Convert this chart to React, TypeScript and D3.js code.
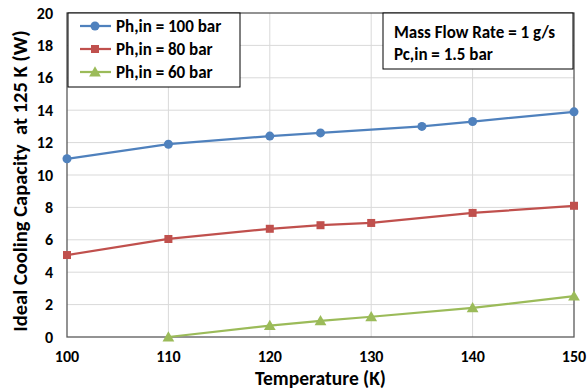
import * as d3 from 'd3'

const temps100 = [100, 110, 120, 125, 135, 140, 150]
const cap100 = [11.0, 11.9, 12.4, 12.6, 13.0, 13.3, 13.9]
const temps80 = [100, 110, 120, 125, 130, 140, 150]
const cap80 = [5.06, 6.05, 6.68, 6.9, 7.04, 7.66, 8.1]
const temps60 = [110, 120, 125, 130, 140, 150]
const cap60 = [0, 0.7, 1.0, 1.25, 1.8, 2.52]
const xTicks = [100, 110, 120, 130, 140, 150]
const yTicks = [0, 2, 4, 6, 8, 10, 12, 14, 16, 18, 20]
const seriesNames = ['Ph,in = 100 bar', 'Ph,in = 80 bar', 'Ph,in = 60 bar']
const noteLines = ['Mass Flow Rate = 1 g/s', 'Pc,in = 1.5 bar']

const width = 587
const height = 391
const margin = { top: 13, right: 13, bottom: 54, left: 67 }
const font = 'Carlito, Lato, "Open Sans", sans-serif'

const series = [
  { name: seriesNames[0], x: temps100, y: cap100, color: '#4f81bd', marker: 'circle' },
  { name: seriesNames[1], x: temps80, y: cap80, color: '#c0504d', marker: 'square' },
  { name: seriesNames[2], x: temps60, y: cap60, color: '#9bbb59', marker: 'triangle' },
]

function Marker({ type, cx, cy, color }: { type: string; cx: number; cy: number; color: string }) {
  if (type === 'circle') return <circle cx={cx} cy={cy} r={4.5} fill={color} />
  if (type === 'square') return <rect x={cx - 4} y={cy - 4} width={8} height={8} fill={color} />
  const s = d3.symbol(d3.symbolTriangle, 60)()
  return <path d={s || ''} transform={`translate(${cx},${cy + 1})`} fill={color} />
}

export default function App() {
  const iw = width - margin.left - margin.right
  const ih = height - margin.top - margin.bottom
  const x = d3.scaleLinear().domain([100, 150]).range([0, iw])
  const y = d3.scaleLinear().domain([0, 20]).range([ih, 0])
  const line = d3
    .line<[number, number]>()
    .x((d) => x(d[0]))
    .y((d) => y(d[1]))

  return (
    <svg width={width} height={height} style={{ position: 'absolute', left: 0, top: 0, background: '#fff' }}>
      <g transform={`translate(${margin.left},${margin.top})`}>
        {xTicks.slice(1, -1).map((t) => (
          <line key={'gx' + t} x1={x(t)} x2={x(t)} y1={0} y2={ih} stroke="#d9d9d9" strokeWidth={1} />
        ))}
        {yTicks.slice(1, -1).map((t) => (
          <line key={'gy' + t} x1={0} x2={iw} y1={y(t)} y2={y(t)} stroke="#d9d9d9" strokeWidth={1} />
        ))}
        <rect x={0} y={0} width={iw} height={ih} fill="none" stroke="#595959" strokeWidth={1.3} />

        {xTicks.map((t) => (
          <text key={'xt' + t} x={x(t)} y={ih + 25} textAnchor="middle" fontFamily={font} fontWeight="bold" fontSize={16} fill="#000">
            {t}
          </text>
        ))}
        {yTicks.map((t) => (
          <text key={'yt' + t} x={-14} y={y(t) + 5.5} textAnchor="end" fontFamily={font} fontWeight="bold" fontSize={16} fill="#000">
            {t}
          </text>
        ))}

        {series.map((s) => (
          <g key={s.name}>
            <path
              d={line(s.x.map((v, i) => [v, s.y[i]] as [number, number])) || ''}
              fill="none"
              stroke={s.color}
              strokeWidth={2.25}
            />
            {s.x.map((v, i) => (
              <Marker key={i} type={s.marker} cx={x(v)} cy={y(s.y[i])} color={s.color} />
            ))}
          </g>
        ))}

        <g transform="translate(1,0)">
          <rect x={0} y={0} width={172} height={74} fill="#fff" stroke="#000" strokeWidth={1} />
          {series.map((s, i) => (
            <g key={'lg' + i} transform={`translate(0,${13 + i * 23})`}>
              <line x1={12} x2={43} y1={0} y2={0} stroke={s.color} strokeWidth={2.25} />
              <Marker type={s.marker} cx={27} cy={0} color={s.color} />
              <text x={48} y={6} fontFamily={font} fontWeight="bold" fontSize={17} fill="#000">
                {s.name}
              </text>
            </g>
          ))}
        </g>

        <g transform={`translate(${iw - 191},0)`}>
          <rect x={0} y={0} width={190} height={56} fill="#fff" stroke="#000" strokeWidth={1} />
          {noteLines.map((t, i) => (
            <text key={t} x={11} y={25 + i * 22} fontFamily={font} fontWeight="bold" fontSize={17} fill="#000">
              {t}
            </text>
          ))}
        </g>

        <text x={iw / 2} y={ih + 48} textAnchor="middle" fontFamily={font} fontWeight="bold" fontSize={19.5} fill="#000">
          Temperature (K)
        </text>
        <text
          transform={`translate(${-40},${ih / 2 + 6}) rotate(-90)`}
          textAnchor="middle"
          fontFamily={font}
          fontWeight="bold"
          fontSize={20.5}
          fill="#000"
          xmlSpace="preserve"
        >
          {'Ideal Cooling Capacity  at 125 K (W)'}
        </text>
      </g>
    </svg>
  )
}
